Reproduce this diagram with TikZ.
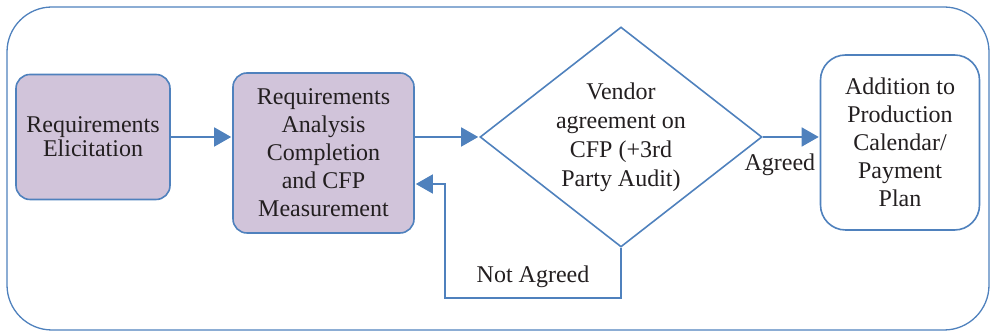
\documentclass[tikz,border=0pt]{standalone}
\usepackage{fontspec}
\setmainfont{Liberation Serif}
\usetikzlibrary{arrows.meta,shapes.geometric,positioning}
\definecolor{flowblue}{RGB}{79,129,189}
\definecolor{reqfill}{RGB}{209,196,218}
\definecolor{inkgray}{RGB}{35,31,32}

\begin{document}
\begin{tikzpicture}[x=1pt,y=1pt,->,>={Triangle[length=17pt,width=19pt]},shorten >=1pt,
                    flow/.style={draw=flowblue,line width=1.6pt},
                    main node/.style={rectangle,rounded corners=14pt,flow,fill=reqfill,align=center,
                                      inner sep=0pt,text=inkgray,font=\fontsize{24}{28}\selectfont},
                    decision/.style={diamond,flow,align=center,inner sep=0pt,aspect=1.28,
                                     minimum width=282pt,minimum height=220pt,text=inkgray,
                                     font=\fontsize{24}{29}\selectfont},
                    end node/.style={main node,fill=white,rounded corners=25pt},
                    flow label/.style={inner sep=0pt,text=inkgray,font=\fontsize{24}{28}\selectfont}]

  \useasboundingbox (0,0) rectangle (990,331);
  \draw[-,draw=flowblue,line width=1.3pt,rounded corners=45pt] (7,1) rectangle (989,324);

  \node[main node,minimum width=154pt,minimum height=125pt,font=\fontsize{24}{24}\selectfont] (elicit) at (93,194) {Requirements\\Elicitation};
  \node[main node,minimum width=181pt,minimum height=160pt] (analysis) at (323.5,178) {Requirements\\Analysis\\Completion\\and CFP\\Measurement};
  \node[decision] (vendor) at (621,194) {Vendor\\agreement on\\CFP (+3rd\\Party Audit)};
  \node[end node,minimum width=159pt,minimum height=175pt] (calendar) at (900,188.5) {Addition to\\Production\\Calendar/\\Payment\\Plan};

  \coordinate (loopturn) at (445,33);

  \draw[flow] (elicit.east) -- (elicit.east -| analysis.west);
  \draw[flow] (vendor.west -| analysis.east) -- (vendor.west);
  \draw[flow] (vendor.east) -- node[flow label,pos=0.3,below=16pt] {Agreed} (vendor.east -| calendar.west);
  \draw[flow] (vendor.south) |- node[flow label,pos=0.75,above=10pt] {Not Agreed} (loopturn)
              |- ([yshift=-31pt]analysis.east);

\end{tikzpicture}
\end{document}
